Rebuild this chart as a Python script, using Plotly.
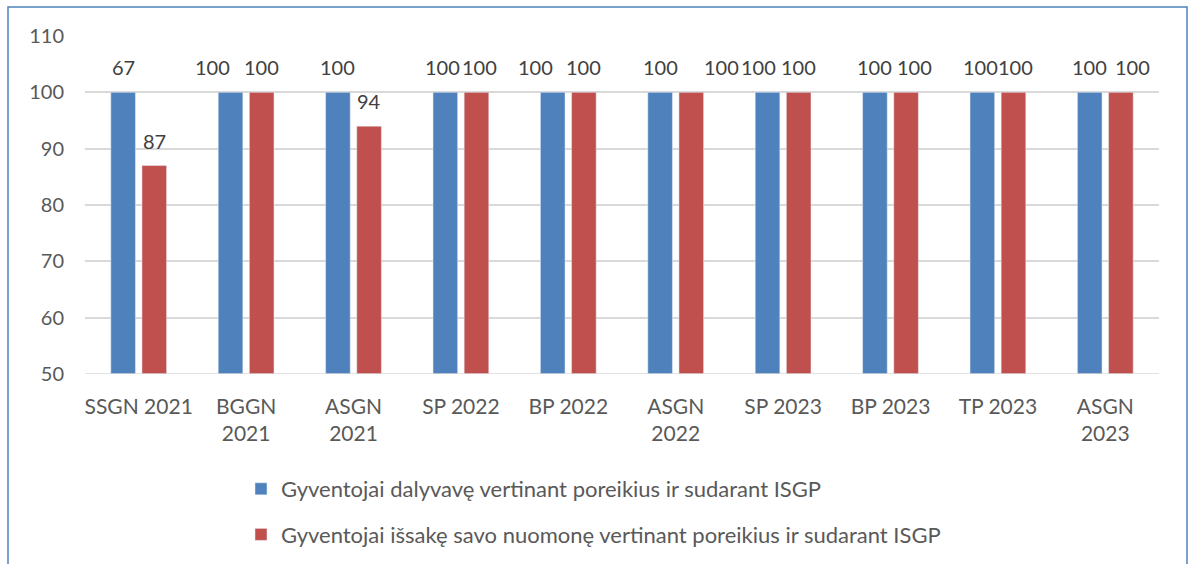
import plotly.graph_objects as go

categories = ["SSGN 2021", "BGGN<br>2021", "ASGN<br>2021", "SP 2022", "BP 2022",
              "ASGN<br>2022", "SP 2023", "BP 2023", "TP 2023", "ASGN<br>2023"]
blue_name = "Gyventojai dalyvavę vertinant poreikius ir sudarant ISGP"
red_name = "Gyventojai išsakę savo nuomonę vertinant poreikius ir sudarant ISGP"
blue_values = [100, 100, 100, 100, 100, 100, 100, 100, 100, 100]
blue_labels = ["67", "100", "100", "100", "100", "100", "100", "100", "100", "100"]
red_values = [87, 100, 94, 100, 100, 100, 100, 100, 100, 100]
red_labels = ["87", "100", "94", "100", "100", "100", "100", "100", "100", "100"]
# manual label nudges (px) as in the original chart
blue_nudge = [0, -18, 0, -3, -17, 0, -9, 0, -2, 0]
red_nudge = [0, 0, 0, 3, 0, 30, 0, 8, 2, 12]

BLUE = "#4F81BD"
RED = "#C0504D"
FONT = "Lato"
TXT = "#595959"

fig = go.Figure()
fig.add_trace(go.Bar(x=categories, y=blue_values, name=blue_name,
                     marker=dict(color=BLUE), legendgroup="a"))
fig.add_trace(go.Bar(x=categories, y=red_values, name=red_name,
                     marker=dict(color=RED), legendgroup="b"))

W, H = 1189, 564
ml, mr, mt, mb = 85, 30, 36, 190
pw = W - ml - mr
ph = H - mt - mb
cat_w = pw / len(categories)
bargap = 0.42
slot = cat_w * (1 - bargap) / 2

for i, c in enumerate(categories):
    fig.add_annotation(x=c, y=blue_values[i], text=blue_labels[i], showarrow=False,
                       xshift=-slot / 2 + blue_nudge[i], yshift=25, yanchor="middle",
                       font=dict(family=FONT, size=20, color="#404040"))
    fig.add_annotation(x=c, y=red_values[i], text=red_labels[i], showarrow=False,
                       xshift=slot / 2 + red_nudge[i], yshift=25, yanchor="middle",
                       font=dict(family=FONT, size=20, color="#404040"))

def px_x(p):
    return (p - ml) / pw

def px_y(p):
    return (H - mb - p) / ph

fig.add_shape(type="rect", xref="paper", yref="paper",
              x0=px_x(8), x1=px_x(1187), y0=px_y(600), y1=px_y(7),
              line=dict(color="#4F81BD", width=1.5), fillcolor="rgba(0,0,0,0)",
              layer="below")

fig.update_layout(
    width=W, height=H,
    margin=dict(l=ml, r=mr, t=mt, b=mb, autoexpand=False),
    paper_bgcolor="white", plot_bgcolor="white",
    barmode="group", bargap=bargap, bargroupgap=0.21,
    font=dict(family=FONT, size=20, color=TXT),
    showlegend=True,
    legend=dict(orientation="v", x=px_x(241), xanchor="left",
                y=px_y(468), yanchor="top", tracegroupgap=14,
                font=dict(family=FONT, size=22, color=TXT),
                bgcolor="rgba(0,0,0,0)", itemwidth=30),
    xaxis=dict(type="category", showgrid=False, showline=False, ticks="",
               tickfont=dict(family=FONT, size=21, color=TXT), ticklabelstandoff=18,
               automargin=False),
    yaxis=dict(range=[50, 110], dtick=10, showgrid=True, gridcolor="#D9D9D9",
               gridwidth=1.5, zeroline=False, showline=False, ticks="",
               tickfont=dict(family=FONT, size=20, color=TXT), ticklabelstandoff=20,
               automargin=False),
)
fig.add_shape(type="line", xref="paper", yref="y", x0=0, x1=1, y0=50, y1=50,
              line=dict(color="#D9D9D9", width=1.5), layer="above")

fig.write_html("out.html", config={"displayModeBar": False},
               post_script="document.body.style.margin='0';")
